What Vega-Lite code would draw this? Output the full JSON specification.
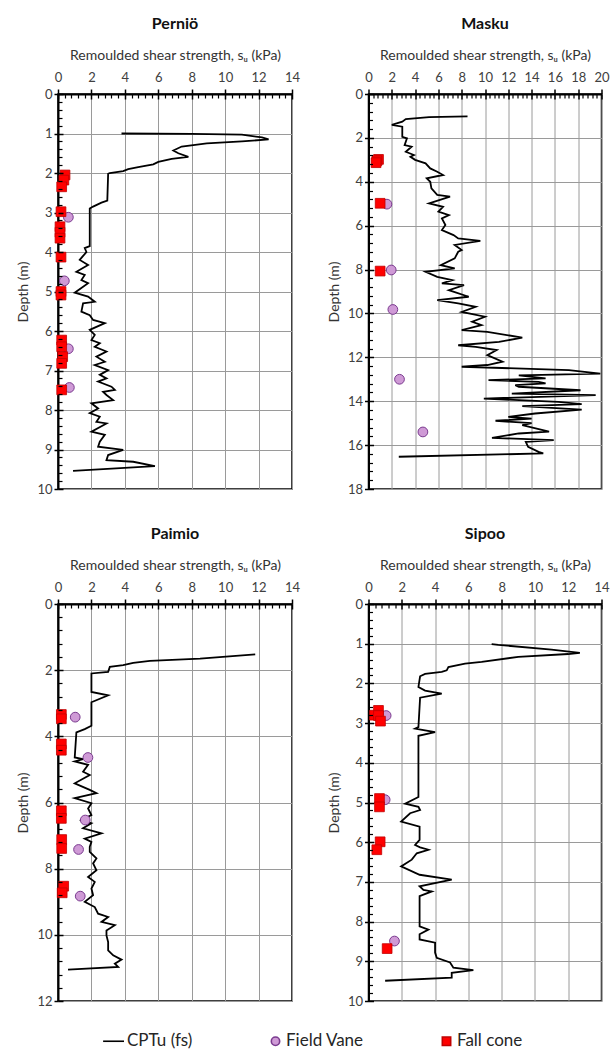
{
"$schema": "https://vega.github.io/schema/vega-lite/v6.json",
"padding": {"left": 16, "top": 15, "right": 5, "bottom": 0},
"background": "white",
"datasets": {
"pernio": [
{"type":"CPTu (fs)","su":3.8,"depth":1.0},{"type":"CPTu (fs)","su":8.0,"depth":1.01},{"type":"CPTu (fs)","su":11.0,"depth":1.03},{"type":"CPTu (fs)","su":12.2,"depth":1.1},{"type":"CPTu (fs)","su":12.6,"depth":1.15},{"type":"CPTu (fs)","su":11.0,"depth":1.2},{"type":"CPTu (fs)","su":8.9,"depth":1.25},{"type":"CPTu (fs)","su":7.4,"depth":1.33},{"type":"CPTu (fs)","su":6.9,"depth":1.43},{"type":"CPTu (fs)","su":7.2,"depth":1.5},{"type":"CPTu (fs)","su":7.8,"depth":1.59},{"type":"CPTu (fs)","su":6.8,"depth":1.64},{"type":"CPTu (fs)","su":6.0,"depth":1.72},{"type":"CPTu (fs)","su":5.7,"depth":1.78},{"type":"CPTu (fs)","su":4.8,"depth":1.85},{"type":"CPTu (fs)","su":4.2,"depth":1.9},{"type":"CPTu (fs)","su":3.9,"depth":1.95},{"type":"CPTu (fs)","su":3.1,"depth":2.0},{"type":"CPTu (fs)","su":3.0,"depth":2.02},{"type":"CPTu (fs)","su":2.95,"depth":2.7},{"type":"CPTu (fs)","su":2.6,"depth":2.75},{"type":"CPTu (fs)","su":2.1,"depth":2.85},{"type":"CPTu (fs)","su":1.9,"depth":2.9},{"type":"CPTu (fs)","su":1.9,"depth":3.85},{"type":"CPTu (fs)","su":1.6,"depth":3.9},{"type":"CPTu (fs)","su":1.7,"depth":4.0},{"type":"CPTu (fs)","su":1.3,"depth":4.2},{"type":"CPTu (fs)","su":1.8,"depth":4.33},{"type":"CPTu (fs)","su":1.1,"depth":4.5},{"type":"CPTu (fs)","su":1.6,"depth":4.58},{"type":"CPTu (fs)","su":1.4,"depth":4.71},{"type":"CPTu (fs)","su":1.8,"depth":4.79},{"type":"CPTu (fs)","su":1.0,"depth":5.03},{"type":"CPTu (fs)","su":1.8,"depth":5.13},{"type":"CPTu (fs)","su":2.2,"depth":5.26},{"type":"CPTu (fs)","su":1.5,"depth":5.3},{"type":"CPTu (fs)","su":1.4,"depth":5.51},{"type":"CPTu (fs)","su":1.9,"depth":5.6},{"type":"CPTu (fs)","su":2.1,"depth":5.72},{"type":"CPTu (fs)","su":2.8,"depth":5.8},{"type":"CPTu (fs)","su":1.9,"depth":5.97},{"type":"CPTu (fs)","su":2.2,"depth":6.1},{"type":"CPTu (fs)","su":2.0,"depth":6.23},{"type":"CPTu (fs)","su":2.5,"depth":6.31},{"type":"CPTu (fs)","su":2.2,"depth":6.4},{"type":"CPTu (fs)","su":2.9,"depth":6.52},{"type":"CPTu (fs)","su":2.3,"depth":6.65},{"type":"CPTu (fs)","su":2.8,"depth":6.78},{"type":"CPTu (fs)","su":2.2,"depth":6.86},{"type":"CPTu (fs)","su":3.0,"depth":6.99},{"type":"CPTu (fs)","su":2.5,"depth":7.11},{"type":"CPTu (fs)","su":2.9,"depth":7.2},{"type":"CPTu (fs)","su":2.4,"depth":7.28},{"type":"CPTu (fs)","su":3.2,"depth":7.41},{"type":"CPTu (fs)","su":3.4,"depth":7.49},{"type":"CPTu (fs)","su":2.7,"depth":7.54},{"type":"CPTu (fs)","su":2.9,"depth":7.62},{"type":"CPTu (fs)","su":3.3,"depth":7.75},{"type":"CPTu (fs)","su":2.0,"depth":7.83},{"type":"CPTu (fs)","su":2.4,"depth":7.96},{"type":"CPTu (fs)","su":1.9,"depth":8.08},{"type":"CPTu (fs)","su":2.5,"depth":8.17},{"type":"CPTu (fs)","su":2.3,"depth":8.3},{"type":"CPTu (fs)","su":2.9,"depth":8.34},{"type":"CPTu (fs)","su":2.0,"depth":8.55},{"type":"CPTu (fs)","su":2.8,"depth":8.63},{"type":"CPTu (fs)","su":2.5,"depth":8.8},{"type":"CPTu (fs)","su":2.4,"depth":8.93},{"type":"CPTu (fs)","su":3.9,"depth":9.01},{"type":"CPTu (fs)","su":3.0,"depth":9.14},{"type":"CPTu (fs)","su":2.9,"depth":9.27},{"type":"CPTu (fs)","su":4.5,"depth":9.31},{"type":"CPTu (fs)","su":5.8,"depth":9.42},{"type":"CPTu (fs)","su":4.5,"depth":9.45},{"type":"CPTu (fs)","su":0.9,"depth":9.54},
{"type":"Field Vane","su":0.62,"depth":3.12},{"type":"Field Vane","su":0.38,"depth":4.73},{"type":"Field Vane","su":0.62,"depth":6.45},{"type":"Field Vane","su":0.68,"depth":7.43},
{"type":"Fall cone","su":0.42,"depth":2.05},{"type":"Fall cone","su":0.35,"depth":2.18},{"type":"Fall cone","su":0.22,"depth":2.35},{"type":"Fall cone","su":0.18,"depth":2.98},{"type":"Fall cone","su":0.12,"depth":3.36},{"type":"Fall cone","su":0.12,"depth":3.5},{"type":"Fall cone","su":0.12,"depth":3.65},{"type":"Fall cone","su":0.18,"depth":4.13},{"type":"Fall cone","su":0.18,"depth":5.0},{"type":"Fall cone","su":0.18,"depth":5.09},{"type":"Fall cone","su":0.22,"depth":6.23},{"type":"Fall cone","su":0.22,"depth":6.4},{"type":"Fall cone","su":0.28,"depth":6.65},{"type":"Fall cone","su":0.22,"depth":6.82},{"type":"Fall cone","su":0.22,"depth":7.49}
],
"masku": [
{"type":"CPTu (fs)","su":8.5,"depth":1.02},{"type":"CPTu (fs)","su":5.2,"depth":1.05},{"type":"CPTu (fs)","su":3.2,"depth":1.14},{"type":"CPTu (fs)","su":2.9,"depth":1.26},{"type":"CPTu (fs)","su":2.0,"depth":1.41},{"type":"CPTu (fs)","su":2.9,"depth":1.49},{"type":"CPTu (fs)","su":2.9,"depth":1.95},{"type":"CPTu (fs)","su":3.3,"depth":2.02},{"type":"CPTu (fs)","su":3.1,"depth":2.33},{"type":"CPTu (fs)","su":3.7,"depth":2.4},{"type":"CPTu (fs)","su":3.2,"depth":2.63},{"type":"CPTu (fs)","su":3.9,"depth":2.78},{"type":"CPTu (fs)","su":3.6,"depth":2.86},{"type":"CPTu (fs)","su":4.0,"depth":3.0},{"type":"CPTu (fs)","su":4.9,"depth":3.16},{"type":"CPTu (fs)","su":5.3,"depth":3.39},{"type":"CPTu (fs)","su":5.9,"depth":3.54},{"type":"CPTu (fs)","su":6.4,"depth":3.69},{"type":"CPTu (fs)","su":5.0,"depth":3.84},{"type":"CPTu (fs)","su":5.3,"depth":4.0},{"type":"CPTu (fs)","su":5.4,"depth":4.3},{"type":"CPTu (fs)","su":5.9,"depth":4.6},{"type":"CPTu (fs)","su":7.0,"depth":4.68},{"type":"CPTu (fs)","su":5.2,"depth":4.98},{"type":"CPTu (fs)","su":6.4,"depth":5.14},{"type":"CPTu (fs)","su":6.0,"depth":5.36},{"type":"CPTu (fs)","su":6.9,"depth":5.52},{"type":"CPTu (fs)","su":6.3,"depth":5.67},{"type":"CPTu (fs)","su":6.6,"depth":5.97},{"type":"CPTu (fs)","su":6.3,"depth":6.2},{"type":"CPTu (fs)","su":7.3,"depth":6.43},{"type":"CPTu (fs)","su":7.7,"depth":6.58},{"type":"CPTu (fs)","su":9.6,"depth":6.69},{"type":"CPTu (fs)","su":7.4,"depth":6.88},{"type":"CPTu (fs)","su":8.0,"depth":7.11},{"type":"CPTu (fs)","su":7.7,"depth":7.19},{"type":"CPTu (fs)","su":7.4,"depth":7.49},{"type":"CPTu (fs)","su":6.2,"depth":7.8},{"type":"CPTu (fs)","su":7.4,"depth":7.95},{"type":"CPTu (fs)","su":4.9,"depth":8.1},{"type":"CPTu (fs)","su":5.9,"depth":8.33},{"type":"CPTu (fs)","su":7.2,"depth":8.48},{"type":"CPTu (fs)","su":6.3,"depth":8.63},{"type":"CPTu (fs)","su":8.2,"depth":8.71},{"type":"CPTu (fs)","su":6.9,"depth":8.94},{"type":"CPTu (fs)","su":8.6,"depth":9.24},{"type":"CPTu (fs)","su":5.9,"depth":9.39},{"type":"CPTu (fs)","su":7.7,"depth":9.54},{"type":"CPTu (fs)","su":9.2,"depth":9.7},{"type":"CPTu (fs)","su":8.0,"depth":9.93},{"type":"CPTu (fs)","su":10.0,"depth":10.15},{"type":"CPTu (fs)","su":8.9,"depth":10.38},{"type":"CPTu (fs)","su":9.7,"depth":10.53},{"type":"CPTu (fs)","su":8.0,"depth":10.76},{"type":"CPTu (fs)","su":10.2,"depth":10.84},{"type":"CPTu (fs)","su":13.2,"depth":11.1},{"type":"CPTu (fs)","su":11.2,"depth":11.3},{"type":"CPTu (fs)","su":7.7,"depth":11.45},{"type":"CPTu (fs)","su":9.2,"depth":11.52},{"type":"CPTu (fs)","su":11.0,"depth":11.67},{"type":"CPTu (fs)","su":10.2,"depth":11.9},{"type":"CPTu (fs)","su":11.5,"depth":12.2},{"type":"CPTu (fs)","su":10.2,"depth":12.35},{"type":"CPTu (fs)","su":8.0,"depth":12.43},{"type":"CPTu (fs)","su":17.2,"depth":12.58},{"type":"CPTu (fs)","su":19.9,"depth":12.74},{"type":"CPTu (fs)","su":12.9,"depth":12.82},{"type":"CPTu (fs)","su":15.2,"depth":12.96},{"type":"CPTu (fs)","su":10.3,"depth":13.04},{"type":"CPTu (fs)","su":14.6,"depth":13.12},{"type":"CPTu (fs)","su":15.2,"depth":13.19},{"type":"CPTu (fs)","su":12.6,"depth":13.27},{"type":"CPTu (fs)","su":12.9,"depth":13.34},{"type":"CPTu (fs)","su":18.2,"depth":13.5},{"type":"CPTu (fs)","su":12.3,"depth":13.65},{"type":"CPTu (fs)","su":19.5,"depth":13.72},{"type":"CPTu (fs)","su":9.9,"depth":13.88},{"type":"CPTu (fs)","su":16.3,"depth":14.03},{"type":"CPTu (fs)","su":18.3,"depth":14.13},{"type":"CPTu (fs)","su":13.2,"depth":14.22},{"type":"CPTu (fs)","su":18.3,"depth":14.38},{"type":"CPTu (fs)","su":14.3,"depth":14.56},{"type":"CPTu (fs)","su":12.0,"depth":14.71},{"type":"CPTu (fs)","su":14.0,"depth":14.79},{"type":"CPTu (fs)","su":10.9,"depth":14.89},{"type":"CPTu (fs)","su":14.0,"depth":15.0},{"type":"CPTu (fs)","su":13.2,"depth":15.09},{"type":"CPTu (fs)","su":15.5,"depth":15.39},{"type":"CPTu (fs)","su":12.9,"depth":15.47},{"type":"CPTu (fs)","su":10.6,"depth":15.67},{"type":"CPTu (fs)","su":15.9,"depth":15.77},{"type":"CPTu (fs)","su":13.5,"depth":15.85},{"type":"CPTu (fs)","su":13.7,"depth":16.08},{"type":"CPTu (fs)","su":14.6,"depth":16.31},{"type":"CPTu (fs)","su":15.0,"depth":16.38},{"type":"CPTu (fs)","su":2.6,"depth":16.53},
{"type":"Field Vane","su":1.58,"depth":5.02},{"type":"Field Vane","su":1.95,"depth":8.02},{"type":"Field Vane","su":2.09,"depth":9.82},{"type":"Field Vane","su":2.66,"depth":13.0},{"type":"Field Vane","su":4.67,"depth":15.4},
{"type":"Fall cone","su":0.86,"depth":2.98},{"type":"Fall cone","su":0.72,"depth":3.04},{"type":"Fall cone","su":0.65,"depth":3.13},{"type":"Fall cone","su":1.0,"depth":4.98},{"type":"Fall cone","su":1.0,"depth":8.07}
],
"paimio": [
{"type":"CPTu (fs)","su":11.8,"depth":1.52},{"type":"CPTu (fs)","su":8.5,"depth":1.65},{"type":"CPTu (fs)","su":5.5,"depth":1.72},{"type":"CPTu (fs)","su":4.5,"depth":1.78},{"type":"CPTu (fs)","su":3.9,"depth":1.85},{"type":"CPTu (fs)","su":3.1,"depth":1.9},{"type":"CPTu (fs)","su":3.0,"depth":2.05},{"type":"CPTu (fs)","su":2.0,"depth":2.1},{"type":"CPTu (fs)","su":2.0,"depth":2.66},{"type":"CPTu (fs)","su":3.0,"depth":2.76},{"type":"CPTu (fs)","su":2.0,"depth":2.97},{"type":"CPTu (fs)","su":2.0,"depth":3.68},{"type":"CPTu (fs)","su":1.6,"depth":3.78},{"type":"CPTu (fs)","su":1.1,"depth":3.88},{"type":"CPTu (fs)","su":1.0,"depth":4.64},{"type":"CPTu (fs)","su":1.5,"depth":4.69},{"type":"CPTu (fs)","su":1.0,"depth":4.76},{"type":"CPTu (fs)","su":1.8,"depth":4.86},{"type":"CPTu (fs)","su":1.5,"depth":5.07},{"type":"CPTu (fs)","su":1.9,"depth":5.17},{"type":"CPTu (fs)","su":1.0,"depth":5.42},{"type":"CPTu (fs)","su":1.9,"depth":5.62},{"type":"CPTu (fs)","su":2.3,"depth":5.72},{"type":"CPTu (fs)","su":1.0,"depth":5.87},{"type":"CPTu (fs)","su":2.0,"depth":6.02},{"type":"CPTu (fs)","su":1.8,"depth":6.18},{"type":"CPTu (fs)","su":2.0,"depth":6.38},{"type":"CPTu (fs)","su":1.4,"depth":6.53},{"type":"CPTu (fs)","su":2.0,"depth":6.63},{"type":"CPTu (fs)","su":1.5,"depth":6.78},{"type":"CPTu (fs)","su":2.6,"depth":6.93},{"type":"CPTu (fs)","su":1.6,"depth":7.09},{"type":"CPTu (fs)","su":2.0,"depth":7.19},{"type":"CPTu (fs)","su":1.9,"depth":7.34},{"type":"CPTu (fs)","su":1.9,"depth":7.49},{"type":"CPTu (fs)","su":2.3,"depth":7.69},{"type":"CPTu (fs)","su":2.1,"depth":7.84},{"type":"CPTu (fs)","su":2.3,"depth":8.05},{"type":"CPTu (fs)","su":1.8,"depth":8.25},{"type":"CPTu (fs)","su":2.2,"depth":8.4},{"type":"CPTu (fs)","su":2.0,"depth":8.6},{"type":"CPTu (fs)","su":2.1,"depth":8.8},{"type":"CPTu (fs)","su":1.6,"depth":9.0},{"type":"CPTu (fs)","su":2.2,"depth":9.16},{"type":"CPTu (fs)","su":2.4,"depth":9.36},{"type":"CPTu (fs)","su":3.0,"depth":9.46},{"type":"CPTu (fs)","su":2.6,"depth":9.61},{"type":"CPTu (fs)","su":3.4,"depth":9.71},{"type":"CPTu (fs)","su":2.9,"depth":9.87},{"type":"CPTu (fs)","su":2.9,"depth":10.02},{"type":"CPTu (fs)","su":3.0,"depth":10.22},{"type":"CPTu (fs)","su":3.0,"depth":10.47},{"type":"CPTu (fs)","su":3.3,"depth":10.62},{"type":"CPTu (fs)","su":3.8,"depth":10.75},{"type":"CPTu (fs)","su":3.4,"depth":10.87},{"type":"CPTu (fs)","su":3.6,"depth":10.97},{"type":"CPTu (fs)","su":0.6,"depth":11.05},
{"type":"Field Vane","su":1.03,"depth":3.42},{"type":"Field Vane","su":1.79,"depth":4.64},{"type":"Field Vane","su":1.63,"depth":6.53},{"type":"Field Vane","su":1.23,"depth":7.42},{"type":"Field Vane","su":1.33,"depth":8.83},
{"type":"Fall cone","su":0.2,"depth":3.34},{"type":"Fall cone","su":0.2,"depth":3.47},{"type":"Fall cone","su":0.2,"depth":4.23},{"type":"Fall cone","su":0.2,"depth":4.42},{"type":"Fall cone","su":0.2,"depth":6.25},{"type":"Fall cone","su":0.2,"depth":6.48},{"type":"Fall cone","su":0.22,"depth":7.12},{"type":"Fall cone","su":0.22,"depth":7.39},{"type":"Fall cone","su":0.34,"depth":8.53},{"type":"Fall cone","su":0.25,"depth":8.73}
],
"sipoo": [
{"type":"CPTu (fs)","su":7.4,"depth":1.01},{"type":"CPTu (fs)","su":7.8,"depth":1.03},{"type":"CPTu (fs)","su":11.0,"depth":1.15},{"type":"CPTu (fs)","su":12.7,"depth":1.23},{"type":"CPTu (fs)","su":12.0,"depth":1.26},{"type":"CPTu (fs)","su":9.0,"depth":1.33},{"type":"CPTu (fs)","su":6.8,"depth":1.46},{"type":"CPTu (fs)","su":5.8,"depth":1.5},{"type":"CPTu (fs)","su":4.8,"depth":1.59},{"type":"CPTu (fs)","su":4.7,"depth":1.67},{"type":"CPTu (fs)","su":4.4,"depth":1.71},{"type":"CPTu (fs)","su":3.4,"depth":1.76},{"type":"CPTu (fs)","su":3.1,"depth":1.82},{"type":"CPTu (fs)","su":3.0,"depth":2.09},{"type":"CPTu (fs)","su":3.4,"depth":2.18},{"type":"CPTu (fs)","su":4.4,"depth":2.26},{"type":"CPTu (fs)","su":3.1,"depth":2.36},{"type":"CPTu (fs)","su":3.0,"depth":3.1},{"type":"CPTu (fs)","su":2.8,"depth":3.14},{"type":"CPTu (fs)","su":4.0,"depth":3.23},{"type":"CPTu (fs)","su":3.0,"depth":3.32},{"type":"CPTu (fs)","su":3.0,"depth":4.86},{"type":"CPTu (fs)","su":2.2,"depth":5.03},{"type":"CPTu (fs)","su":3.0,"depth":5.11},{"type":"CPTu (fs)","su":3.1,"depth":5.19},{"type":"CPTu (fs)","su":2.5,"depth":5.27},{"type":"CPTu (fs)","su":1.96,"depth":5.48},{"type":"CPTu (fs)","su":3.07,"depth":5.61},{"type":"CPTu (fs)","su":3.07,"depth":5.94},{"type":"CPTu (fs)","su":2.8,"depth":6.07},{"type":"CPTu (fs)","su":3.1,"depth":6.13},{"type":"CPTu (fs)","su":3.6,"depth":6.19},{"type":"CPTu (fs)","su":2.9,"depth":6.28},{"type":"CPTu (fs)","su":2.6,"depth":6.44},{"type":"CPTu (fs)","su":1.96,"depth":6.61},{"type":"CPTu (fs)","su":3.07,"depth":6.82},{"type":"CPTu (fs)","su":5.0,"depth":6.94},{"type":"CPTu (fs)","su":3.07,"depth":7.11},{"type":"CPTu (fs)","su":3.3,"depth":7.2},{"type":"CPTu (fs)","su":3.8,"depth":7.24},{"type":"CPTu (fs)","su":3.07,"depth":7.36},{"type":"CPTu (fs)","su":3.07,"depth":8.12},{"type":"CPTu (fs)","su":3.6,"depth":8.2},{"type":"CPTu (fs)","su":3.07,"depth":8.32},{"type":"CPTu (fs)","su":3.07,"depth":8.45},{"type":"CPTu (fs)","su":4.0,"depth":8.53},{"type":"CPTu (fs)","su":4.0,"depth":8.78},{"type":"CPTu (fs)","su":4.1,"depth":8.91},{"type":"CPTu (fs)","su":4.9,"depth":9.03},{"type":"CPTu (fs)","su":5.1,"depth":9.16},{"type":"CPTu (fs)","su":6.3,"depth":9.22},{"type":"CPTu (fs)","su":5.0,"depth":9.29},{"type":"CPTu (fs)","su":5.0,"depth":9.41},{"type":"CPTu (fs)","su":1.0,"depth":9.49},
{"type":"Field Vane","su":1.06,"depth":2.81},{"type":"Field Vane","su":1.0,"depth":4.93},{"type":"Field Vane","su":1.56,"depth":8.49},
{"type":"Fall cone","su":0.6,"depth":2.68},{"type":"Fall cone","su":0.36,"depth":2.8},{"type":"Fall cone","su":0.6,"depth":2.81},{"type":"Fall cone","su":0.72,"depth":2.95},{"type":"Fall cone","su":0.66,"depth":4.9},{"type":"Fall cone","su":0.66,"depth":5.11},{"type":"Fall cone","su":0.7,"depth":5.99},{"type":"Fall cone","su":0.5,"depth":6.19},{"type":"Fall cone","su":1.12,"depth":8.68}
]
},
"vconcat": [
{"hconcat": [
{"title": "Perniö", "width": 234, "height": 395, "data": {"name": "pernio"},
 "resolve": {"axis": {"x": "independent", "y": "independent"}},
 "layer": [
  {"transform": [{"filter": "datum.type === 'CPTu (fs)'"}], "mark": {"type": "line", "strokeWidth": 1.8},
   "encoding": {
    "x": {"field": "su", "type": "quantitative", "scale": {"domain": [0, 14], "nice": false, "zero": false}, "axis": {"orient": "top", "values": [0,2,4,6,8,10,12,14], "title": "Remoulded shear strength, sᵤ (kPa)", "tickSize": 5, "labelPadding": 5, "titlePadding": 9, "grid": true, "labelFlush": false, "labelOverlap": false}},
    "y": {"field": "depth", "type": "quantitative", "scale": {"domain": [0, 10], "reverse": true, "nice": false, "zero": false}, "axis": {"orient": "left", "values": [0,1,2,3,4,5,6,7,8,9,10], "title": "Depth (m)", "tickSize": 4, "labelPadding": 2, "titlePadding": 6, "grid": true, "labelFlush": false, "labelOverlap": false, "titleFontSize": 14}},
    "order": {"field": "depth", "type": "quantitative"},
    "stroke": {"field": "type", "type": "nominal", "scale": {"domain": ["CPTu (fs)", "Field Vane", "Fall cone"], "range": ["#000000", "#7a3b8f", "#c00000"]}, "legend": {"title": null, "orient": "none", "legendX": 50, "legendY": 938.5, "direction": "horizontal"}}
   }},
  {"transform": [{"filter": "datum.type === 'Field Vane'"}], "mark": {"type": "point", "filled": true, "size": 95, "strokeWidth": 1, "opacity": 1},
   "encoding": {
    "x": {"field": "su", "type": "quantitative", "axis": {"orient": "top", "offset": -4, "values": [0.4,0.8,1.2,1.6,2.4,2.8,3.2,3.6,4.4,4.8,5.2,5.6,6.4,6.8,7.2,7.6,8.4,8.8,9.2,9.6,10.4,10.8,11.2,11.6,12.4,12.8,13.2,13.6], "labels": false, "domain": false, "grid": false, "title": null, "tickSize": 4, "tickWidth": 1.2, "zindex": 2}},
    "y": {"field": "depth", "type": "quantitative", "axis": {"orient": "left", "offset": -4, "values": [0.2,0.4,0.6,0.8,1.2,1.4,1.6,1.8,2.2,2.4,2.6,2.8,3.2,3.4,3.6,3.8,4.2,4.4,4.6,4.8,5.2,5.4,5.6,5.8,6.2,6.4,6.6,6.8,7.2,7.4,7.6,7.8,8.2,8.4,8.6,8.8,9.2,9.4,9.6,9.8], "labels": false, "domain": false, "grid": false, "title": null, "tickSize": 4, "tickWidth": 1.2, "zindex": 2}},
    "fill": {"field": "type", "type": "nominal", "scale": {"domain": ["CPTu (fs)", "Field Vane", "Fall cone"], "range": ["transparent", "#cf9ad6", "#ff0000"]}, "legend": {"title": null, "orient": "none", "legendX": 50, "legendY": 938.5, "direction": "horizontal"}},
    "stroke": {"field": "type", "type": "nominal", "legend": {"title": null, "orient": "none", "legendX": 50, "legendY": 938.5, "direction": "horizontal"}},
    "shape": {"field": "type", "type": "nominal", "scale": {"domain": ["CPTu (fs)", "Field Vane", "Fall cone"], "range": ["M-3.2,0H1.8", "circle", "square"]}, "legend": {"title": null, "orient": "none", "legendX": 50, "legendY": 938.5, "direction": "horizontal"}}
   }},
  {"transform": [{"filter": "datum.type === 'Fall cone'"}], "mark": {"type": "point", "filled": true, "size": 95, "strokeWidth": 0.8, "opacity": 1},
   "encoding": {
    "x": {"field": "su", "type": "quantitative", "axis": {"orient": "top", "offset": -5, "values": [0,2,4,6,8,10,12,14], "labels": false, "domain": false, "grid": false, "title": null, "tickSize": 5, "zindex": 2}},
    "y": {"field": "depth", "type": "quantitative", "axis": {"orient": "left", "offset": -5, "values": [0,1,2,3,4,5,6,7,8,9,10], "labels": false, "domain": false, "grid": false, "title": null, "tickSize": 5, "zindex": 2}},
    "fill": {"field": "type", "type": "nominal"},
    "stroke": {"field": "type", "type": "nominal"},
    "shape": {"field": "type", "type": "nominal"}
   }}
 ]},
{"title": "Masku", "width": 233, "height": 395, "data": {"name": "masku"},
 "resolve": {"axis": {"x": "independent", "y": "independent"}},
 "layer": [
  {"transform": [{"filter": "datum.type === 'CPTu (fs)'"}], "mark": {"type": "line", "strokeWidth": 1.8},
   "encoding": {
    "x": {"field": "su", "type": "quantitative", "scale": {"domain": [0, 20], "nice": false, "zero": false}, "axis": {"orient": "top", "values": [0,2,4,6,8,10,12,14,16,18,20], "title": "Remoulded shear strength, sᵤ (kPa)", "tickSize": 5, "labelPadding": 5, "titlePadding": 9, "grid": true, "labelFlush": false, "labelOverlap": false}},
    "y": {"field": "depth", "type": "quantitative", "scale": {"domain": [0, 18], "reverse": true, "nice": false, "zero": false}, "axis": {"orient": "left", "values": [0,2,4,6,8,10,12,14,16,18], "title": "Depth (m)", "tickSize": 4, "labelPadding": 2, "titlePadding": 6, "grid": true, "labelFlush": false, "labelOverlap": false, "titleFontSize": 14}},
    "order": {"field": "depth", "type": "quantitative"},
    "stroke": {"field": "type", "type": "nominal"}
   }},
  {"transform": [{"filter": "datum.type === 'Field Vane'"}], "mark": {"type": "point", "filled": true, "size": 95, "strokeWidth": 1, "opacity": 1},
   "encoding": {
    "x": {"field": "su", "type": "quantitative", "axis": {"orient": "top", "offset": -4, "values": [0.4,0.8,1.2,1.6,2.4,2.8,3.2,3.6,4.4,4.8,5.2,5.6,6.4,6.8,7.2,7.6,8.4,8.8,9.2,9.6,10.4,10.8,11.2,11.6,12.4,12.8,13.2,13.6,14.4,14.8,15.2,15.6,16.4,16.8,17.2,17.6,18.4,18.8,19.2,19.6], "labels": false, "domain": false, "grid": false, "title": null, "tickSize": 4, "tickWidth": 1.2, "zindex": 2}},
    "y": {"field": "depth", "type": "quantitative", "axis": {"orient": "left", "offset": -4, "values": [0.4,0.8,1.2,1.6,2.4,2.8,3.2,3.6,4.4,4.8,5.2,5.6,6.4,6.8,7.2,7.6,8.4,8.8,9.2,9.6,10.4,10.8,11.2,11.6,12.4,12.8,13.2,13.6,14.4,14.8,15.2,15.6,16.4,16.8,17.2,17.6], "labels": false, "domain": false, "grid": false, "title": null, "tickSize": 4, "tickWidth": 1.2, "zindex": 2}},
    "fill": {"field": "type", "type": "nominal"},
    "stroke": {"field": "type", "type": "nominal"},
    "shape": {"field": "type", "type": "nominal"}
   }},
  {"transform": [{"filter": "datum.type === 'Fall cone'"}], "mark": {"type": "point", "filled": true, "size": 95, "strokeWidth": 0.8, "opacity": 1},
   "encoding": {
    "x": {"field": "su", "type": "quantitative", "axis": {"orient": "top", "offset": -5, "values": [0,2,4,6,8,10,12,14,16,18,20], "labels": false, "domain": false, "grid": false, "title": null, "tickSize": 5, "zindex": 2}},
    "y": {"field": "depth", "type": "quantitative", "axis": {"orient": "left", "offset": -5, "values": [0,2,4,6,8,10,12,14,16,18], "labels": false, "domain": false, "grid": false, "title": null, "tickSize": 5, "zindex": 2}},
    "fill": {"field": "type", "type": "nominal"},
    "stroke": {"field": "type", "type": "nominal"},
    "shape": {"field": "type", "type": "nominal"}
   }}
 ]}
], "spacing": 25.5},
{"hconcat": [
{"title": "Paimio", "width": 234, "height": 397, "data": {"name": "paimio"},
 "resolve": {"axis": {"x": "independent", "y": "independent"}},
 "layer": [
  {"transform": [{"filter": "datum.type === 'CPTu (fs)'"}], "mark": {"type": "line", "strokeWidth": 1.8},
   "encoding": {
    "x": {"field": "su", "type": "quantitative", "scale": {"domain": [0, 14], "nice": false, "zero": false}, "axis": {"orient": "top", "values": [0,2,4,6,8,10,12,14], "title": "Remoulded shear strength, sᵤ (kPa)", "tickSize": 5, "labelPadding": 5, "titlePadding": 9, "grid": true, "labelFlush": false, "labelOverlap": false}},
    "y": {"field": "depth", "type": "quantitative", "scale": {"domain": [0, 12], "reverse": true, "nice": false, "zero": false}, "axis": {"orient": "left", "values": [0,2,4,6,8,10,12], "title": "Depth (m)", "tickSize": 4, "labelPadding": 2, "titlePadding": 6, "grid": true, "labelFlush": false, "labelOverlap": false, "titleFontSize": 14}},
    "order": {"field": "depth", "type": "quantitative"},
    "stroke": {"field": "type", "type": "nominal"}
   }},
  {"transform": [{"filter": "datum.type === 'Field Vane'"}], "mark": {"type": "point", "filled": true, "size": 95, "strokeWidth": 1, "opacity": 1},
   "encoding": {
    "x": {"field": "su", "type": "quantitative", "axis": {"orient": "top", "offset": -4, "values": [0.4,0.8,1.2,1.6,2.4,2.8,3.2,3.6,4.4,4.8,5.2,5.6,6.4,6.8,7.2,7.6,8.4,8.8,9.2,9.6,10.4,10.8,11.2,11.6,12.4,12.8,13.2,13.6], "labels": false, "domain": false, "grid": false, "title": null, "tickSize": 4, "tickWidth": 1.2, "zindex": 2}},
    "y": {"field": "depth", "type": "quantitative", "axis": {"orient": "left", "offset": -4, "values": [0.4,0.8,1.2,1.6,2.4,2.8,3.2,3.6,4.4,4.8,5.2,5.6,6.4,6.8,7.2,7.6,8.4,8.8,9.2,9.6,10.4,10.8,11.2,11.6], "labels": false, "domain": false, "grid": false, "title": null, "tickSize": 4, "tickWidth": 1.2, "zindex": 2}},
    "fill": {"field": "type", "type": "nominal"},
    "stroke": {"field": "type", "type": "nominal"},
    "shape": {"field": "type", "type": "nominal"}
   }},
  {"transform": [{"filter": "datum.type === 'Fall cone'"}], "mark": {"type": "point", "filled": true, "size": 95, "strokeWidth": 0.8, "opacity": 1},
   "encoding": {
    "x": {"field": "su", "type": "quantitative", "axis": {"orient": "top", "offset": -5, "values": [0,2,4,6,8,10,12,14], "labels": false, "domain": false, "grid": false, "title": null, "tickSize": 5, "zindex": 2}},
    "y": {"field": "depth", "type": "quantitative", "axis": {"orient": "left", "offset": -5, "values": [0,2,4,6,8,10,12], "labels": false, "domain": false, "grid": false, "title": null, "tickSize": 5, "zindex": 2}},
    "fill": {"field": "type", "type": "nominal"},
    "stroke": {"field": "type", "type": "nominal"},
    "shape": {"field": "type", "type": "nominal"}
   }}
 ]},
{"title": "Sipoo", "width": 233, "height": 397, "data": {"name": "sipoo"},
 "resolve": {"axis": {"x": "independent", "y": "independent"}},
 "layer": [
  {"transform": [{"filter": "datum.type === 'CPTu (fs)'"}], "mark": {"type": "line", "strokeWidth": 1.8},
   "encoding": {
    "x": {"field": "su", "type": "quantitative", "scale": {"domain": [0, 14], "nice": false, "zero": false}, "axis": {"orient": "top", "values": [0,2,4,6,8,10,12,14], "title": "Remoulded shear strength, sᵤ (kPa)", "tickSize": 5, "labelPadding": 5, "titlePadding": 9, "grid": true, "labelFlush": false, "labelOverlap": false}},
    "y": {"field": "depth", "type": "quantitative", "scale": {"domain": [0, 10], "reverse": true, "nice": false, "zero": false}, "axis": {"orient": "left", "values": [0,1,2,3,4,5,6,7,8,9,10], "title": "Depth (m)", "tickSize": 4, "labelPadding": 2, "titlePadding": 6, "grid": true, "labelFlush": false, "labelOverlap": false, "titleFontSize": 14}},
    "order": {"field": "depth", "type": "quantitative"},
    "stroke": {"field": "type", "type": "nominal"}
   }},
  {"transform": [{"filter": "datum.type === 'Field Vane'"}], "mark": {"type": "point", "filled": true, "size": 95, "strokeWidth": 1, "opacity": 1},
   "encoding": {
    "x": {"field": "su", "type": "quantitative", "axis": {"orient": "top", "offset": -4, "values": [0.4,0.8,1.2,1.6,2.4,2.8,3.2,3.6,4.4,4.8,5.2,5.6,6.4,6.8,7.2,7.6,8.4,8.8,9.2,9.6,10.4,10.8,11.2,11.6,12.4,12.8,13.2,13.6], "labels": false, "domain": false, "grid": false, "title": null, "tickSize": 4, "tickWidth": 1.2, "zindex": 2}},
    "y": {"field": "depth", "type": "quantitative", "axis": {"orient": "left", "offset": -4, "values": [0.2,0.4,0.6,0.8,1.2,1.4,1.6,1.8,2.2,2.4,2.6,2.8,3.2,3.4,3.6,3.8,4.2,4.4,4.6,4.8,5.2,5.4,5.6,5.8,6.2,6.4,6.6,6.8,7.2,7.4,7.6,7.8,8.2,8.4,8.6,8.8,9.2,9.4,9.6,9.8], "labels": false, "domain": false, "grid": false, "title": null, "tickSize": 4, "tickWidth": 1.2, "zindex": 2}},
    "fill": {"field": "type", "type": "nominal"},
    "stroke": {"field": "type", "type": "nominal"},
    "shape": {"field": "type", "type": "nominal"}
   }},
  {"transform": [{"filter": "datum.type === 'Fall cone'"}], "mark": {"type": "point", "filled": true, "size": 95, "strokeWidth": 0.8, "opacity": 1},
   "encoding": {
    "x": {"field": "su", "type": "quantitative", "axis": {"orient": "top", "offset": -5, "values": [0,2,4,6,8,10,12,14], "labels": false, "domain": false, "grid": false, "title": null, "tickSize": 5, "zindex": 2}},
    "y": {"field": "depth", "type": "quantitative", "axis": {"orient": "left", "offset": -5, "values": [0,1,2,3,4,5,6,7,8,9,10], "labels": false, "domain": false, "grid": false, "title": null, "tickSize": 5, "zindex": 2}},
    "fill": {"field": "type", "type": "nominal"},
    "stroke": {"field": "type", "type": "nominal"},
    "shape": {"field": "type", "type": "nominal"}
   }}
 ]}
], "spacing": 25.5}
],
"spacing": 28,
"config": {
 "font": "Lato",
 "view": {"stroke": "#000000", "strokeWidth": 1.5},
 "title": {"font": "Lato", "fontSize": 16, "fontWeight": "bold", "color": "#111111", "offset": 16},
 "axis": {"labelFont": "Lato", "labelFontSize": 13, "labelColor": "#404040", "titleFont": "Lato", "titleFontSize": 14, "titleFontWeight": "normal", "titleColor": "#333333", "domainColor": "#000000", "domainWidth": 2, "tickColor": "#000000", "tickWidth": 1.5, "gridColor": "#9a9a9a", "gridWidth": 1, "gridOpacity": 1},
 "legend": {"labelFont": "Lato", "labelFontSize": 17, "labelColor": "#262626", "symbolSize": 70, "symbolStrokeWidth": 1.6, "labelOffset": 2, "columnPadding": 74, "padding": 0}
}
}
